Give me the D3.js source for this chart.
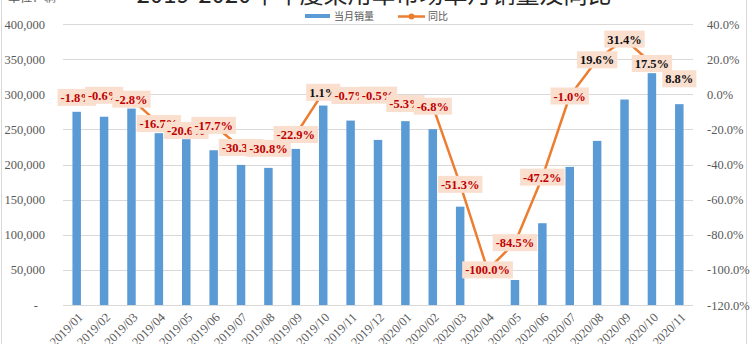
<!DOCTYPE html>
<html><head><meta charset="utf-8">
<script src="https://cdn.jsdelivr.net/npm/d3@7"></script>
<style>
html,body{margin:0;padding:0;background:#fff;}
svg{display:block;}
</style></head>
<body>
<svg id="chart" width="752" height="344"></svg>
<script>
const categories = ["2019/01","2019/02","2019/03","2019/04","2019/05","2019/06","2019/07","2019/08","2019/09","2019/10","2019/11","2019/12","2020/01","2020/02","2020/03","2020/04","2020/05","2020/06","2020/07","2020/08","2020/09","2020/10","2020/11"];
const sales = [275000,268000,279600,244600,236000,220300,199400,195200,222200,283900,262500,235000,261700,250300,140000,0,35600,116400,196600,233600,292500,330000,285900];
const yoy = [-1.8,-0.6,-2.8,-16.7,-20.6,-17.7,-30.3,-30.8,-22.9,1.1,-0.7,-0.5,-5.3,-6.8,-51.3,-100.0,-84.5,-47.2,-1.0,19.6,31.4,17.5,8.8];
const leftTicks = [0,50000,100000,150000,200000,250000,300000,350000,400000];
const rightTicks = [-120,-100,-80,-60,-40,-20,0,20,40];
const titleText = "2019-2020年年度乘用车市场单月销量及同比";
const unitText = "单位：辆";
const legendNames = ["当月销量","同比"];

(function(){
const svg = d3.select("#chart");
const W = 752, H = 344;
const pL = 63, pR = 693, pT = 24, pB = 305;
const barColor = "#5B9BD5", lineColor = "#ED7D31";
const axisFont = "'Liberation Serif', serif";
const cjkFont = "'Noto Sans CJK SC', sans-serif";

svg.append("rect").attr("x",1.5).attr("y",-2).attr("width",745).attr("height",H+4)
  .attr("fill","#fff").attr("stroke","#d9d9d9").attr("stroke-width",1);

const x = d3.scaleBand().domain(categories).range([pL,pR]).paddingInner(0.69).paddingOuter(0.345);
const yL = d3.scaleLinear().domain([0,400000]).range([pB,pT]);
const yR = d3.scaleLinear().domain([-120,40]).range([pB,pT]);

svg.append("g").selectAll("line").data(leftTicks).join("line")
  .attr("x1",pL).attr("x2",pR)
  .attr("y1",d=>Math.round(yL(d))+0.5).attr("y2",d=>Math.round(yL(d))+0.5)
  .attr("stroke","#d9d9d9").attr("stroke-width",1);

const fmt = d3.format(",");
const gL = svg.append("g").attr("transform",`translate(${pL-15},0)`)
  .call(d3.axisLeft(yL).tickValues(leftTicks).tickSize(0).tickFormat(d=>d===0?"-":fmt(d)));
gL.select(".domain").remove();
gL.selectAll("text").attr("font-family",axisFont).attr("font-size",12.5).attr("fill","#595959")
  .attr("dx",d=>d===0?-7:0);

const gR = svg.append("g").attr("transform",`translate(${pR+11},0)`)
  .call(d3.axisRight(yR).tickValues(rightTicks).tickSize(0).tickFormat(d=>d.toFixed(1)+"%"));
gR.select(".domain").remove();
gR.selectAll("text").attr("font-family",axisFont).attr("font-size",12.5).attr("fill","#595959");

svg.append("g").selectAll("rect").data(categories).join("rect")
  .attr("x",d=>x(d)).attr("width",x.bandwidth())
  .attr("y",(d,i)=>yL(sales[i])).attr("height",(d,i)=>pB-yL(sales[i]))
  .attr("fill",barColor);

const gX = svg.append("g").attr("transform",`translate(0,${pB})`)
  .call(d3.axisBottom(x).tickSize(0));
gX.select(".domain").remove();
gX.selectAll("text").attr("font-family",axisFont).attr("font-size",12.5).attr("fill","#595959")
  .attr("text-anchor","end").attr("dy",null).attr("y",0)
  .attr("transform","translate(7,13) rotate(-45)");

const line = d3.line().x((d,i)=>x(categories[i])+x.bandwidth()/2).y(d=>yR(d));
svg.append("path").datum(yoy).attr("d",line).attr("fill","none")
  .attr("stroke",lineColor).attr("stroke-width",2.5).attr("stroke-linejoin","round");
svg.append("g").selectAll("circle").data(yoy).join("circle")
  .attr("cx",(d,i)=>x(categories[i])+x.bandwidth()/2).attr("cy",d=>yR(d)).attr("r",3)
  .attr("fill",lineColor);

const gLab = svg.append("g");
yoy.forEach((v,i)=>{
  const cx = x(categories[i])+x.bandwidth()/2, cy = yR(v);
  const g = gLab.append("g");
  const r = g.append("rect");
  const t = g.append("text").attr("x",cx).attr("y",cy+4.5).attr("text-anchor","middle")
    .attr("font-family",axisFont).attr("font-weight","bold").attr("font-size",12.5)
    .attr("fill",v<0?"#C00000":"#111").text(v.toFixed(1)+"%");
  const w = t.node().getComputedTextLength();
  r.attr("x",cx-w/2-3).attr("y",cy-8.5).attr("width",w+6).attr("height",17).attr("fill","#FADFCF");
});

svg.append("text").attr("x",374).attr("y",2.5).attr("text-anchor","middle")
  .attr("font-family",cjkFont).attr("font-size",24).attr("fill","#262626").text(titleText);
svg.append("text").attr("x",8).attr("y",2)
  .attr("font-family",cjkFont).attr("font-size",12).attr("fill","#595959").text(unitText);

const lg = svg.append("g").attr("font-family",cjkFont).attr("font-size",10).attr("fill","#595959");
lg.append("rect").attr("x",305).attr("y",14).attr("width",25).attr("height",4).attr("fill",barColor);
lg.append("text").attr("x",334).attr("y",20).text(legendNames[0]);
lg.append("line").attr("x1",398).attr("x2",425).attr("y1",16.5).attr("y2",16.5).attr("stroke",lineColor).attr("stroke-width",2.5);
lg.append("circle").attr("cx",411.5).attr("cy",16.5).attr("r",3).attr("fill",lineColor);
lg.append("text").attr("x",428).attr("y",20).text(legendNames[1]);
})();
</script>
</body></html>
